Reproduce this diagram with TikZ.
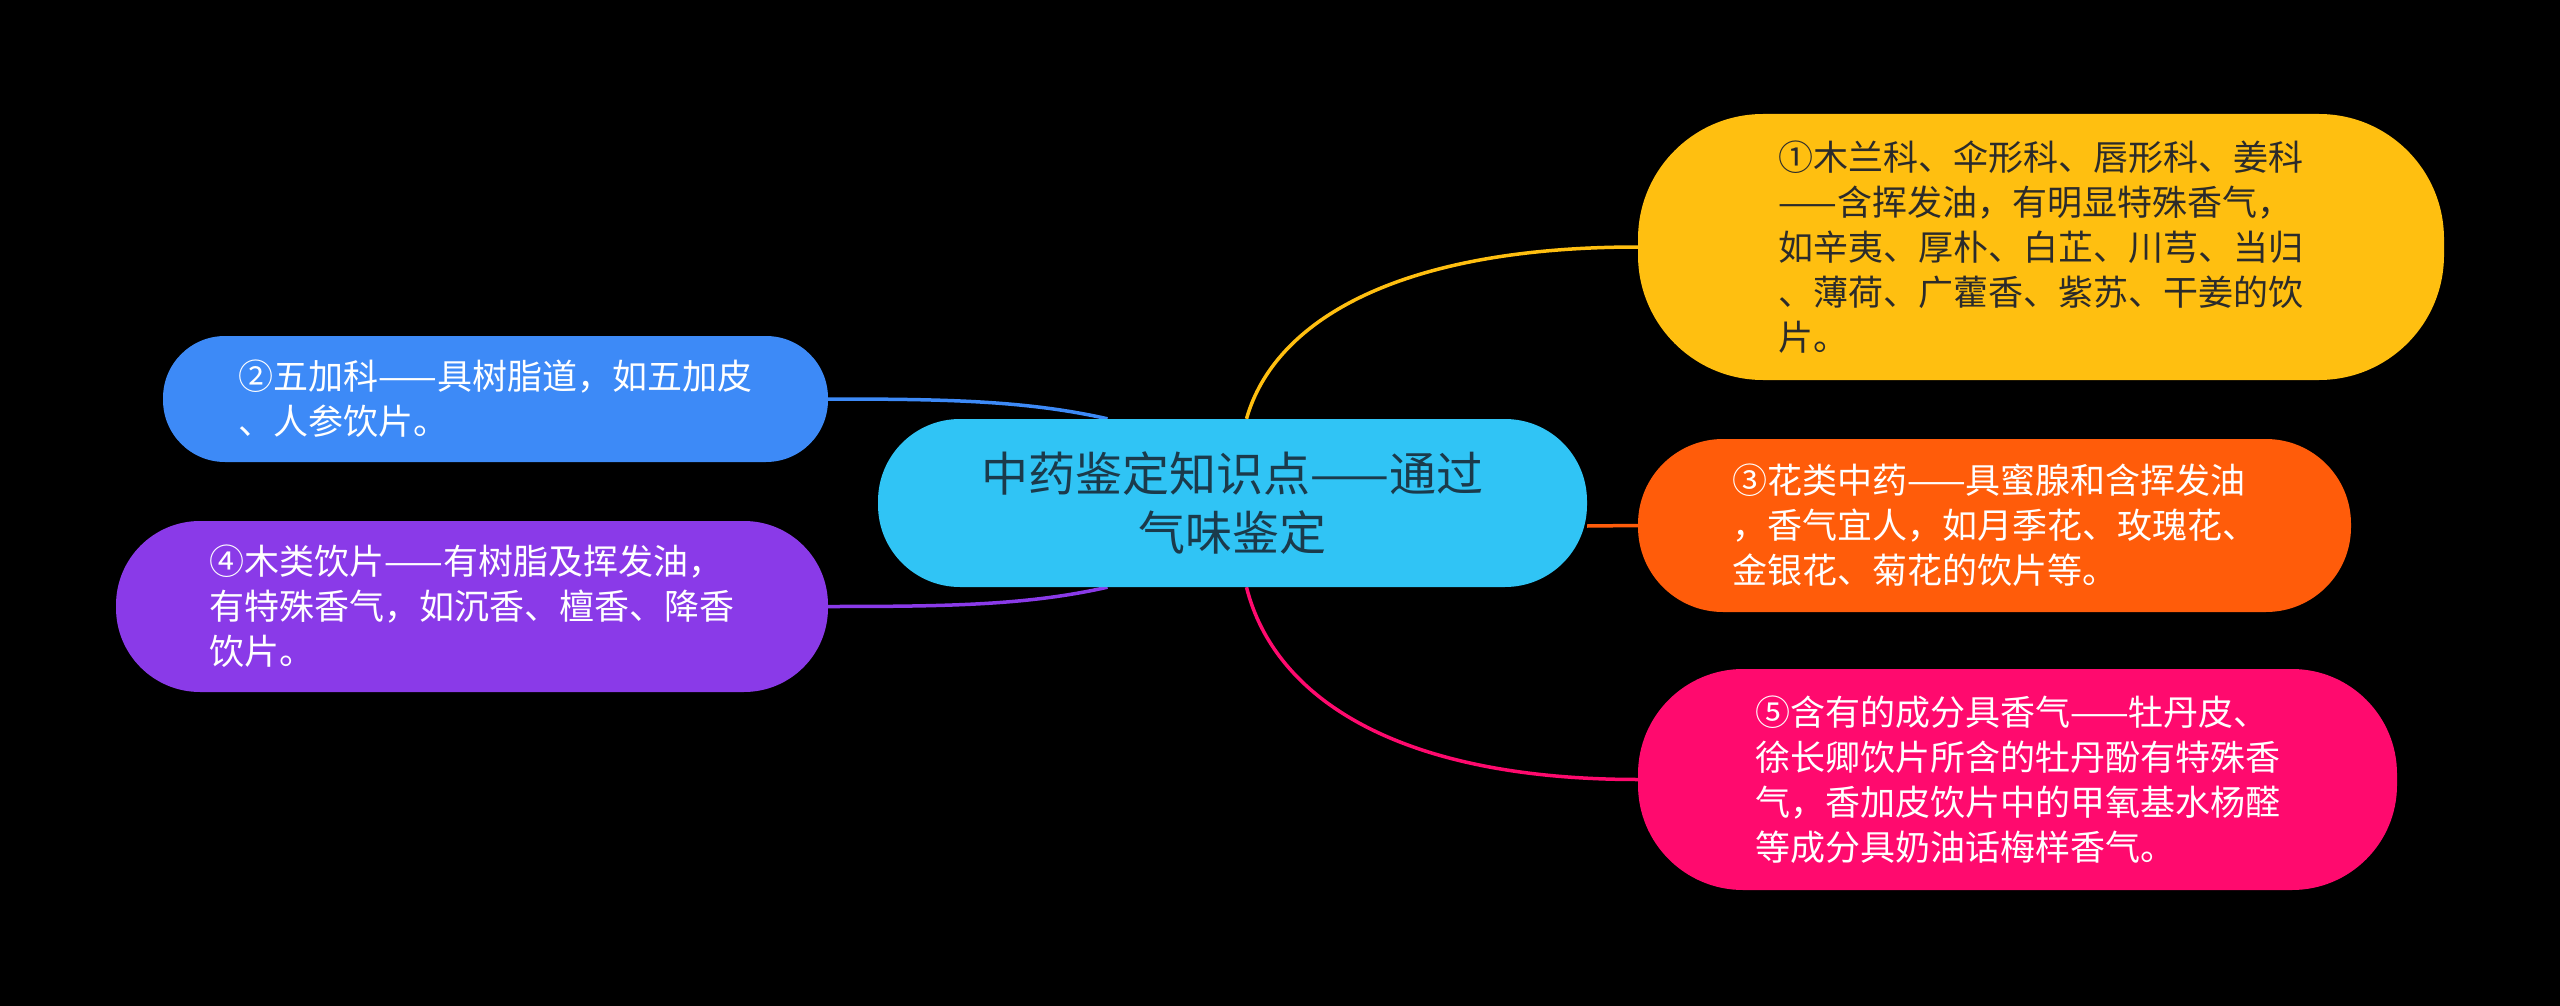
\documentclass[tikz,border=0pt]{standalone}
\usepackage{fontspec}
\setmainfont{Noto Sans CJK SC}
\pgfdeclarelayer{bg}
\pgfsetlayers{bg,main}
\definecolor{cYel}{HTML}{FFBF10}
\definecolor{cCen}{HTML}{30C4F5}
\definecolor{cBlu}{HTML}{3D8AF7}
\definecolor{cPur}{HTML}{8A3AE8}
\definecolor{cOrg}{HTML}{FF5C0A}
\definecolor{cPnk}{HTML}{FF0A6E}
\definecolor{cDark}{HTML}{2B2B2B}
\definecolor{cCenTxt}{HTML}{1B3A4B}
\begin{document}
\begin{tikzpicture}[x=1pt,y=-1pt,
  mbox/.style={shape=rectangle, inner sep=0pt, align=left,
    font=\fontsize{35pt}{45pt}\selectfont, text=white},
  conn/.style={line width=3.5pt}]
\begin{pgfonlayer}{bg}
\fill[black] (0,0) rectangle (2560,1006);
\end{pgfonlayer}
\useasboundingbox (0,0) rectangle (2560,1006);

\node[mbox, fill=cCen, text=cCenTxt, align=center, minimum width=709pt, minimum height=168pt,
  rounded corners=82pt, font=\fontsize{47pt}{59pt}\selectfont] (c) at (1232.5,503)
  {中药鉴定知识点——通过\\气味鉴定};

\node[mbox, fill=cYel, text=cDark, minimum width=806pt, minimum height=266pt,
  rounded corners=125pt] (y) at (2041,247)
  {①木兰科、伞形科、唇形科、姜科\\——含挥发油，有明显特殊香气，\\如辛夷、厚朴、白芷、川芎、当归\\、薄荷、广藿香、紫苏、干姜的饮\\片。};

\node[mbox, fill=cBlu, minimum width=665pt, minimum height=126pt,
  rounded corners=62pt] (b) at (495.5,399)
  {②五加科——具树脂道，如五加皮\\、人参饮片。};

\node[mbox, fill=cPur, minimum width=712pt, minimum height=171pt,
  rounded corners=84pt] (pu) at (472,606.5)
  {④木类饮片——有树脂及挥发油，\\有特殊香气，如沉香、檀香、降香\\饮片。};

\node[mbox, fill=cOrg, minimum width=713pt, minimum height=173pt,
  rounded corners=85pt] (o) at (1994.5,525.5)
  {③花类中药——具蜜腺和含挥发油\\，香气宜人，如月季花、玫瑰花、\\金银花、菊花的饮片等。};

\node[mbox, fill=cPnk, minimum width=759pt, minimum height=221pt,
  rounded corners=105pt] (p) at (2017.5,779.5)
  {⑤含有的成分具香气——牡丹皮、\\徐长卿饮片所含的牡丹酚有特殊香\\气，香加皮饮片中的甲氧基水杨醛\\等成分具奶油话梅样香气。};

\begin{pgfonlayer}{bg}
\draw[conn, cYel] ([xshift=14pt]c.north) .. controls +(28,-99) and +(-238,0) .. (y.west);
\draw[conn, cPnk] ([xshift=14pt]c.south) .. controls +(28,112) and +(-238,0) .. (p.west);
\draw[conn, cOrg] ([yshift=-23pt]c.east) -- (o.west);
\draw[conn, cBlu] (b.east) .. controls +(120,0) and +(-80,-18) .. ([xshift=-125pt]c.north);
\draw[conn, cPur] (pu.east) .. controls +(120,0) and +(-80,18) .. ([xshift=-125pt]c.south);
\end{pgfonlayer}
\end{tikzpicture}
\end{document}
